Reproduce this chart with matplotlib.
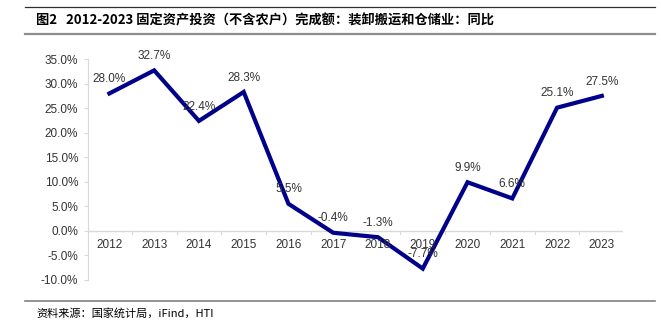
import matplotlib
matplotlib.use('Agg')
import matplotlib.pyplot as plt
from matplotlib.lines import Line2D

plt.rcParams['font.family'] = ['Liberation Sans', 'Noto Sans CJK SC', 'DejaVu Sans']

years = ['2012', '2013', '2014', '2015', '2016', '2017', '2018', '2019', '2020', '2021', '2022', '2023']
yoy = [28.0, 32.7, 22.4, 28.3, 5.5, -0.4, -1.3, -7.7, 9.9, 6.6, 25.1, 27.5]
yticks = [-10, -5, 0, 5, 10, 15, 20, 25, 30, 35]

title = '图2   2012-2023 固定资产投资（不含农户）完成额：装卸搬运和仓储业：同比'
source = '资料来源：国家统计局，iFind，HTI'

fig = plt.figure(figsize=(6.61, 3.32), dpi=100)
ax = fig.add_axes([0.133, 0.157, 0.81, 0.665])

x = range(len(years))
ax.plot(x, yoy, color='#00008B', lw=3, solid_joinstyle='miter')
for i, v in zip(x, yoy):
    ax.annotate(f'{v:.1f}%', (i, v), xytext=(0, 6), textcoords='offset points',
                ha='center', va='bottom', fontsize=8.5, color='#333333')

ax.set_xlim(-0.48, len(years) - 0.52)
ax.set_ylim(-10, 35)
ax.set_yticks(yticks)
ax.set_yticklabels([f'{t:.1f}%' for t in yticks], fontsize=8.5, color='#333333')
ax.tick_params(axis='y', length=3, color='#d9d9d9', pad=4)

for s in ['top', 'right', 'bottom']:
    ax.spines[s].set_visible(False)
ax.spines['left'].set_color('#d9d9d9')
ax.axhline(0, color='#d9d9d9', lw=1, zorder=0)

ax.set_xticks([])
for i, lab in zip(x, years):
    ax.text(i, -1.6, lab, ha='center', va='top', fontsize=8.5, color='#333333')
for i in range(len(years) + 1):
    ax.plot([i - 0.5, i - 0.5], [0, -0.6], color='#d9d9d9', lw=0.8, zorder=0)

# header / footer rules
x0, x1 = 25/661, 655/661
fig.add_artist(Line2D([x0, x1], [1 - 7/332, 1 - 7/332], color='#303030', lw=0.9))
fig.add_artist(Line2D([x0, x1], [1 - 34/332, 1 - 34/332], color='#8c8c8c', lw=1.6))
fig.add_artist(Line2D([x0, x1], [1 - 301/332, 1 - 301/332], color='#808080', lw=1.2))
fig.text(36/661, 1 - 20/332, title, fontsize=9.5, fontweight='bold', va='center',
         family=['Noto Sans CJK SC', 'DejaVu Sans'])
fig.text(36/661, 1 - 313/332, source, fontsize=8, va='center',
         family=['Noto Sans CJK SC', 'DejaVu Sans'])

fig.savefig('out.png', dpi=100)
